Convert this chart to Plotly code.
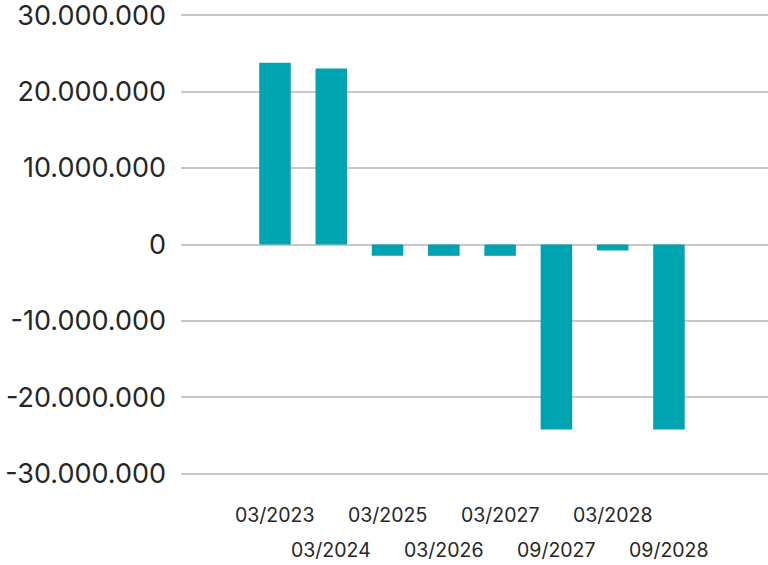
import plotly.graph_objects as go

categories = ["03/2023", "03/2024", "03/2025", "03/2026", "03/2027", "09/2027", "03/2028", "09/2028"]
values = [23750000, 23000000, -1480000, -1480000, -1480000, -24200000, -780000, -24200000]
y_tickvals = [30000000, 20000000, 10000000, 0, -10000000, -20000000, -30000000]
y_ticktext = ["30.000.000", "20.000.000", "10.000.000", "0", "-10.000.000", "-20.000.000", "-30.000.000"]

BAR = "#00a4b0"
TXT = "#262626"
GRID = "#c8c8c8"

fig = go.Figure()
fig.add_trace(go.Bar(x=categories, y=values, marker=dict(color=BAR, line=dict(width=0)), width=0.56))

# staggered category labels
for i, c in enumerate(categories):
    fig.add_annotation(x=c, xref="x", y=0, yref="paper", text=c, showarrow=False,
                       yanchor="middle", yshift=-38 if i % 2 == 0 else -73,
                       font=dict(family="Inter, Roboto, sans-serif", size=19.5, color=TXT))

fig.update_layout(
    width=768, height=565,
    margin=dict(l=181, r=0, t=12, b=88, autoexpand=False),
    paper_bgcolor="white", plot_bgcolor="white",
    showlegend=False,
    bargap=0.44,
)
fig.update_xaxes(type="category", range=[-1.67, 8.76], showticklabels=False, automargin=False,
                 showgrid=False, zeroline=False, showline=False, ticks="")
fig.update_yaxes(range=[-30400000, 30400000], tickvals=y_tickvals, ticktext=y_ticktext,
                 automargin=False, ticklabeloverflow="allow",
                 showgrid=True, gridcolor=GRID, gridwidth=2,
                 zeroline=True, zerolinecolor=GRID, zerolinewidth=2,
                 showline=False, ticks="", ticklabelstandoff=14,
                 tickfont=dict(family="Inter, Roboto, sans-serif", size=27, color=TXT))

fig.write_html("out.html", config={"displayModeBar": False},
               post_script="document.body.style.margin='0';document.body.style.overflow='hidden';")
